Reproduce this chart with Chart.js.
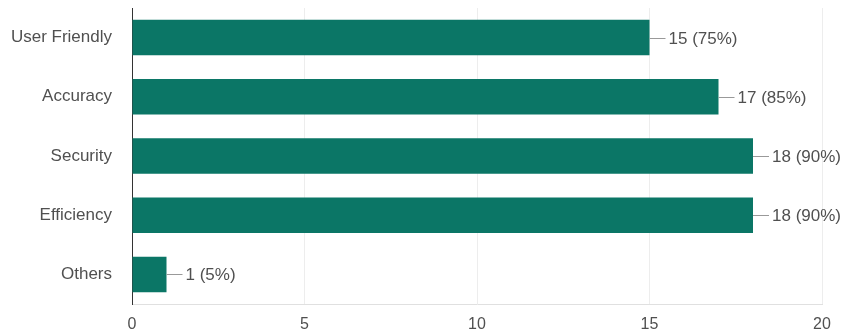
<!DOCTYPE html>
<html>
<head>
<meta charset="utf-8">
<script src="https://cdn.jsdelivr.net/npm/chart.js@4/dist/chart.umd.min.js"></script>
<style>
  html, body { margin: 0; padding: 0; background: #fff; }
  #wrap { width: 843px; height: 334px; }
</style>
</head>
<body>
<div id="wrap"><canvas id="chart"></canvas></div>
<script>
const labels = ["User Friendly", "Accuracy", "Security", "Efficiency", "Others"]
const counts = [15, 17, 18, 18, 1]
const percents = [75, 85, 90, 90, 5]
const xTicks = [0, 5, 10, 15, 20]

const FONT = "'Liberation Sans', Arial, sans-serif"

// draws the little leader line and "n (p%)" text after every bar
const barLabels = {
  id: "barLabels",
  afterDatasetsDraw(chart) {
    const ctx = chart.ctx
    const meta = chart.getDatasetMeta(0)
    ctx.save()
    ctx.font = "17px " + FONT
    ctx.textBaseline = "middle"
    ctx.fillStyle = "#505050"
    ctx.strokeStyle = "#999"
    ctx.lineWidth = 1
    meta.data.forEach((bar, i) => {
      const x = bar.x
      const y = Math.round(bar.y) + 0.5
      ctx.beginPath()
      ctx.moveTo(x, y)
      ctx.lineTo(x + 16, y)
      ctx.stroke()
      ctx.fillText(counts[i] + " (" + percents[i] + "%)", x + 19, y + 1)
    })
    ctx.restore()
  }
}

new Chart(document.getElementById("chart"), {
  type: "bar",
  data: {
    labels: labels,
    datasets: [{
      data: counts,
      backgroundColor: "#0b7666",
      barPercentage: 0.6,
      categoryPercentage: 1
    }]
  },
  options: {
    indexAxis: "y",
    responsive: true,
    maintainAspectRatio: false,
    animation: false,
    layout: { padding: { top: 8, right: 21, left: 0, bottom: 0 } },
    plugins: {
      legend: { display: false },
      tooltip: { enabled: false }
    },
    scales: {
      x: {
        min: 0,
        max: 20,
        afterBuildTicks(scale) {
          scale.ticks = xTicks.map(v => ({ value: v }))
        },
        afterFit(scale) { scale.height = 30 },
        grid: { color: "#ededed", drawTicks: false },
        border: { color: "#e0e0e0" },
        ticks: {
          padding: 11,
          color: "#505050",
          font: { family: FONT, size: 16 }
        }
      },
      y: {
        afterFit(scale) {
          scale.width = 132
          scale.paddingTop = 0
          scale.paddingBottom = 0
        },
        grid: { display: false, drawTicks: false },
        border: { color: "#333" },
        ticks: {
          padding: 20,
          color: "#505050",
          font: { family: FONT, size: 17 }
        }
      }
    }
  },
  plugins: [barLabels]
})
</script>
</body>
</html>
